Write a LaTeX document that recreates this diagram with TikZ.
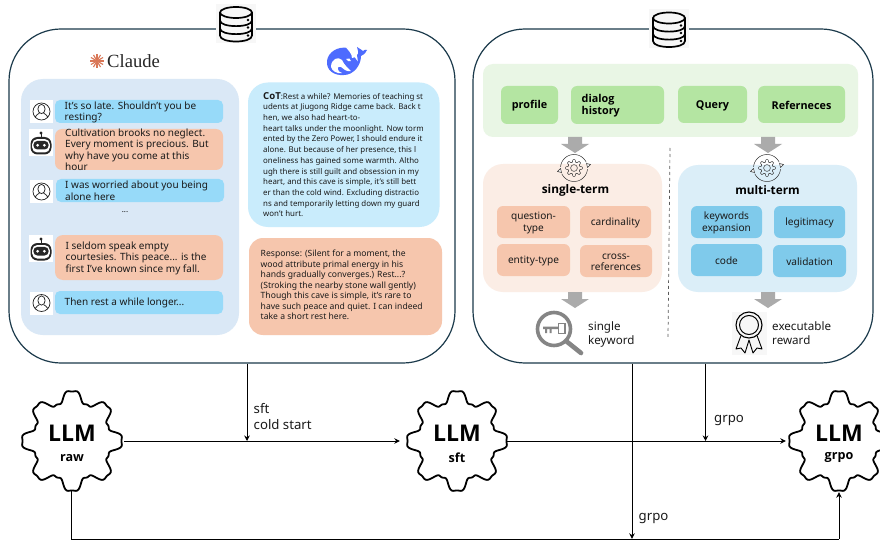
\documentclass[tikz,border=0pt]{standalone}
\usepackage{fontspec}
\setmainfont{Noto Sans}
\newfontfamily\claudefont{Liberation Serif}
\newfontfamily\heavy{Open Sans}
\usetikzlibrary{arrows.meta,calc,shapes.arrows}
\definecolor{navy}{HTML}{1B3A4B}
\definecolor{bubblue}{HTML}{97DAF9}
\definecolor{buborange}{HTML}{F6C6AD}
\definecolor{panelblue}{HTML}{DAE8F6}
\definecolor{cyanpanel}{HTML}{C9ECFC}
\definecolor{greenpanel}{HTML}{E9F6E5}
\definecolor{greenbox}{HTML}{B4E5A2}
\definecolor{peach}{HTML}{FBEDE5}
\definecolor{skypanel}{HTML}{DBEEF8}
\definecolor{skybox}{HTML}{7FCAEB}
\definecolor{arrowgray}{HTML}{ABABAB}
\definecolor{txt}{HTML}{1A1A1A}
\definecolor{whale}{HTML}{4D6BFE}
\definecolor{spark}{HTML}{D97757}
\tikzset{
  x=1pt,y=-1pt,
  outerbox/.style={draw=navy,line width=1.2pt,rounded corners=52pt},
  panel/.style={rounded corners=#1},
  bubtext/.style={anchor=west,inner sep=0,align=left,text=txt,font=\fontsize{10}{11.4}\selectfont},
  boldlbl/.style={inner sep=0,align=left,yshift=-1pt,font=\heavy\fontsize{10.8}{12.5}\selectfont\bfseries,text=black},
  boxlbl/.style={inner sep=0,align=center,yshift=-1pt,font=\fontsize{10.1}{11.3}\selectfont,text=txt},
  edgelbl/.style={anchor=west,inner sep=0,align=left,font=\fontsize{13.2}{16}\selectfont,text=txt},
  sidelbl/.style={anchor=west,inner sep=0,align=left,font=\fontsize{11.6}{14}\selectfont,text=txt},
  link/.style={line width=1pt,-{Stealth[length=5.5pt,width=5.5pt]}},
  plainlink/.style={line width=1pt},
  gearnode/.style={circle,minimum size=100pt,inner sep=0},
  llm/.style={inner sep=0,font=\heavy\fontsize{23}{26}\selectfont\bfseries},
  llmsub/.style={inner sep=0,font=\heavy\fontsize{12.6}{14}\selectfont\bfseries},
  termlbl/.style={inner sep=0,font=\heavy\fontsize{11.8}{14}\selectfont\bfseries,text=black},
  grayarrow/.style={fill=arrowgray},
  person/.pic={
    \fill[white] (-11.5,-11.5) rectangle (11.5,11.5);
    \draw[line width=.75pt,black!85] (0,0) circle[radius=8.5];
    \draw[line width=.75pt,black!85] (0,-2.5) ellipse[x radius=3.6,y radius=4.6];
    \draw[line width=.75pt,black!85] (-6.4,5.6) .. controls (-5.5,2.6) and (-3,3) .. (-2,1.6);
    \draw[line width=.75pt,black!85] (6.4,5.6) .. controls (5.5,2.6) and (3,3) .. (2,1.6);
  },
  robot/.pic={
    \fill[white] (-12,-13.5) rectangle (12,13.5);
    \fill[black!85] (0,-9.5) circle[radius=1.7];
    \draw[line width=1pt,black!85] (0,-9) -- (0,-5);
    \fill[black!85,rounded corners=7pt] (-10.5,-5.5) rectangle (10.5,12);
    \fill[white,rounded corners=5pt] (-8.8,-3.4) rectangle (8.8,10);
    \fill[black!85,rounded corners=4pt] (-7.6,-1.6) rectangle (7.6,7);
    \fill[white] (-3.4,2.8) circle[radius=1.5] (3.4,2.8) circle[radius=1.5];
  },
  dbicon/.pic={
    \fill[black!3] (-20,-19.5) rectangle (20,19.5);
    \begin{scope}[line width=1.7pt,draw=black]
      \fill[black!3] (-16,-12) -- (-16,12) .. controls (-16,20) and (16,20) .. (16,12) -- (16,-12) -- cycle;
      \draw (0,-11) ellipse[x radius=16,y radius=5.5];
      \draw (-16,-11) -- (-16,12) .. controls (-16,20) and (16,20) .. (16,12) -- (16,-11);
      \draw (-16,-3) .. controls (-16,4.5) and (16,4.5) .. (16,-3);
      \draw (-16,5) .. controls (-16,12.5) and (16,12.5) .. (16,5);
    \end{scope}
    \fill (12,-3.5) circle[radius=1.3] (12,4) circle[radius=1.3] (12,12) circle[radius=1.3];
  },
  cycleicon/.pic={
    \draw[line width=.5pt,black!80] plot[domain=0:360,samples=161,smooth] ({(7.2+1.1*(cos(8*\x)-.2*cos(24*\x))/.8)*cos(\x)},{(7.2+1.1*(cos(8*\x)-.2*cos(24*\x))/.8)*sin(\x)});
    \draw[line width=.5pt,black!80] (0,0) circle[radius=3.4];
    \draw[line width=.5pt,black!80] plot[domain=185:335,samples=24] ({13.5*cos(\x)},{13.5*sin(\x)});
    \draw[line width=.5pt,black!80] plot[domain=5:155,samples=24] ({13.5*cos(\x)},{13.5*sin(\x)});
    \draw[line width=.5pt,black!80,fill=white] (12.5,-4.5) -- (16.5,-3.5) -- (13.5,-.5) -- cycle;
    \draw[line width=.5pt,black!80,fill=white] (-12.5,4.5) -- (-16.5,3.5) -- (-13.5,.5) -- cycle;
  },
}
\newcommand{\gearshape}[2]{%
  \draw[line width=1.8pt,black,line join=round] plot[domain=0:360,samples=241,smooth] ({#1+(44.4+5*(cos(8*(\x+90))-.22*cos(24*(\x+90)))/.78)*cos(\x)},{#2+(44.4+5*(cos(8*(\x+90))-.22*cos(24*(\x+90)))/.78)*sin(\x)});}
\newcommand{\blockarrow}[2]{%
  \fill[grayarrow] (#1-7,#2) -- (#1+7,#2) -- (#1+7,#2+7) -- (#1+14,#2+7) -- (#1,#2+16) -- (#1-14,#2+7) -- (#1-7,#2+7) -- cycle;}
\begin{document}
\begin{tikzpicture}
\useasboundingbox[clip] (0,0) rectangle (880,540);
\fill[white] (0,0) rectangle (880,540);

% outer boxes
\path[outerbox] (9,29) rectangle node[inner sep=0] (leftbox) {} (455,363);
\path[outerbox] (473,29) rectangle node[inner sep=0] (rightbox) {} (873,363);
\pic at (236,23.5) {dbicon};
\pic at (669,29) {dbicon};

% Claude header
\foreach \a in {0,30,...,330}{\draw[line width=1.1pt,color=spark] (97,61) -- ++(\a:7);}
\node[anchor=west,inner sep=0,font=\claudefont\fontsize{18.6}{20}\selectfont,text=black!85] (claude) at (107,61.5) {Claude};

% DeepSeek whale
\fill[whale] (327,61) .. controls (328,52) and (338,46) .. (348,48)
  -- (358,62) -- (357,55) .. controls (360,53) and (357,50) .. (357,47) .. controls (360,49) and (362,50) .. (363,51) .. controls (364,50) and (366,49) .. (367,50) .. controls (365,54) and (363,55) .. (361,56)
  .. controls (361,66) and (353,75) .. (344,75) .. controls (334,76) and (326,70) .. (327,61) -- cycle;
\fill[white] (331,67) .. controls (331,59) and (338,56) .. (342,60) .. controls (344,65) and (349,69) .. (351,71) .. controls (346,72) and (344,69) .. (341,67) .. controls (336,65) and (337,72) .. (342,73) .. controls (337,74) and (332,71) .. (331,67) -- cycle;
\fill[white] (346,59) .. controls (348,57) and (351,59) .. (351,61) .. controls (349,62) and (347,61) .. (346,59) -- cycle;
\fill[white] (346,47.5) -- (350,47) -- (356,57) -- (352,58) .. controls (352,54) and (349,51) .. (346,47.5) -- cycle;

% left conversation panel
\path[fill=panelblue,panel=22pt] (21,79) rectangle node[inner sep=0] (chatpanel) {} (239,335);
\path[fill=bubblue,panel=5pt] (55,100) rectangle node[inner sep=0] (b1) {} (223,123);
\path[fill=buborange,panel=7pt] (55,129) rectangle node[inner sep=0] (o1) {} (223,170);
\path[fill=bubblue,panel=5pt] (56,179) rectangle node[inner sep=0] (b2) {} (224,202);
\path[fill=buborange,panel=8pt] (55,235) rectangle node[inner sep=0] (o2) {} (223,280);
\path[fill=bubblue,panel=5pt] (55,291) rectangle node[inner sep=0] (b3) {} (223,314);
\node[bubtext] (t1) at (64.5,112.3) {It's so late. Shouldn't you be\\resting?};
\node[bubtext] (t2) at (65,149.8) {Cultivation brooks no neglect.\\Every moment is precious. But\\why have you come at this\\hour};
\node[bubtext] (t3) at (65,190.8) {I was worried about you being\\alone here};
\node[inner sep=0,font=\fontsize{8}{9}\selectfont] (dots) at (125,212) {...};
\node[bubtext] (t4) at (65.5,258) {I seldom speak empty\\courtesies. This peace... is the\\first I've known since my fall.};
\node[bubtext] (t5) at (64.5,302.5) {Then rest a while longer...};
\pic at (41.5,111.5) {person};
\pic at (41,142.5) {robot};
\pic at (41.5,191.5) {person};
\pic at (41,248.5) {robot};
\pic at (41.5,303) {person};

% CoT panel
\path[fill=cyanpanel,panel=20pt] (248,82.5) rectangle node[inner sep=0] (cotpanel) {} (439.5,227);
\node[anchor=north west,inner sep=0,align=left,text=txt,font=\fontsize{7.9}{10.7}\selectfont] (cot) at (263,92) {{\heavy\fontsize{9.6}{10.7}\selectfont\bfseries CoT}:Rest a while? Memories of teaching st\\udents at Jiugong Ridge came back. Back t\\hen, we also had heart-to-\\heart talks under the moonlight. Now torm\\ented by the Zero Power, I should endure it\\ alone. But because of her presence, this l\\oneliness has gained some warmth. Altho\\ugh there is still guilt and obsession in my\\heart, and this cave is simple, it's still bett\\er than the cold wind. Excluding distractio\\ns and temporarily letting down my guard\\won't hurt.};
% response panel
\path[fill=buborange,panel=14pt] (249,238) rectangle node[inner sep=0] (resppanel) {} (442,335);
\node[anchor=north west,inner sep=0,align=left,text=txt,font=\fontsize{8.6}{10.5}\selectfont] (resp) at (260.5,250) {Response: (Silent for a moment, the\\wood attribute primal energy in his\\hands gradually converges.) Rest...?\\(Stroking the nearby stone wall gently)\\Though this cave is simple, it's rare to\\have such peace and quiet. I can indeed\\take a short rest here.};

% right top
\path[fill=greenpanel,panel=10pt] (483,64) rectangle node[inner sep=0] (greenp) {} (858,137);
\path[fill=greenbox,panel=6pt] (501,86) rectangle node[boldlbl] (profile) {profile} (558,124);
\path[fill=greenbox,panel=6pt] (571,86) rectangle node[inner sep=0] (dialogbox) {} (664,124);
\node[boldlbl,anchor=west] (dialog) at (581.5,104.5) {dialog\\history};
\path[fill=greenbox,panel=6pt] (678,86) rectangle node[boldlbl] (query) {Query} (747,123);
\path[fill=greenbox,panel=6pt] (758,86) rectangle node[boldlbl] (refs) {Referneces} (845,123);

\blockarrow{575}{137}
\blockarrow{768}{137}
\draw[dashed,line width=.7pt,black!65] (670,148) coordinate (dashtop) -- (668,337) coordinate (dashbot);

% single / multi panels
\path[fill=peach,panel=20pt] (483,164) rectangle node[inner sep=0] (singlep) {} (662,292);
\path[fill=skypanel,panel=20pt] (678,165) rectangle node[inner sep=0] (multip) {} (857,292);
\pic at (574,168) {cycleicon};
\pic at (767,168) {cycleicon};
\node[termlbl] (singlet) at (575.5,190) {single-term};
\node[termlbl] (multit) at (767.5,190) {multi-term};

\path[fill=buborange,panel=6pt] (497,206) rectangle node[boxlbl] (qt) {question-\\type} (570,238);
\path[fill=buborange,panel=6pt] (580,206) rectangle node[boxlbl] (card) {cardinality} (651,238);
\path[fill=buborange,panel=6pt] (497,244) rectangle node[boxlbl] (et) {entity-type} (570,276);
\path[fill=buborange,panel=6pt] (580,245) rectangle node[boxlbl] (cr) {cross-\\references} (652,277);
\path[fill=skybox,panel=6pt] (691,206) rectangle node[boxlbl] (kw) {keywords\\expansion} (762,238);
\path[fill=skybox,panel=6pt] (774,206) rectangle node[boxlbl] (leg) {legitimacy} (845,238);
\path[fill=skybox,panel=6pt] (691,244) rectangle node[boxlbl] (code) {code} (762,276);
\path[fill=skybox,panel=6pt] (773,245) rectangle node[boxlbl] (val) {validation} (846,277);

\blockarrow{575}{292}
\blockarrow{768}{292}

% magnifier with key
\draw[line width=3.6pt,black!48] (554,329) circle[radius=16.5];
\draw[line width=4.6pt,black!48,line cap=round] (566,341) -- (581,353);
\draw[line width=1.5pt,black!48] (558.5,323.5) rectangle (565,333.5);
\fill[black!48] (543,326.5) rectangle (558.5,329) (545,329) rectangle (547,333) (549.5,329) rectangle (551.5,333);
\node[sidelbl] (sk) at (588,334) {single\\keyword};

% medal
\fill[black!3] (732,312) rectangle (767,355);
\draw[line width=1.1pt,black] (749,325) circle[radius=13];
\draw[line width=1pt,black] (749,325) circle[radius=9.5];
\draw[line width=.9pt,black,line join=round] (741,335.5) -- (736,349) -- (741,348) -- (745,353) -- (749,340) -- (753,353) -- (757,348) -- (762,349) -- (757,335.5);
\node[sidelbl] (er) at (772,333) {executable\\reward};

% gears
\node[gearnode] (raw) at (72,441) {};
\node[gearnode] (sft) at (457,441) {};
\node[gearnode] (grpo) at (839,441) {};
\gearshape{72}{441}
\gearshape{457}{441}
\gearshape{839}{441}
\node[llm] (rawa) at (72,433.5) {LLM};
\node[llm] (sfta) at (457,433.5) {LLM};
\node[llm] (grpoa) at (839,433.5) {LLM};
\node[llmsub] (rawb) at (72,458) {raw};
\node[llmsub] (sftb) at (457,458) {sft};
\node[llmsub] (grpob) at (839,458) {grpo};

% connectors
\coordinate (m1) at (247,441);
\coordinate (m2) at (705.5,441);
\coordinate (c1) at (247,363.5);
\coordinate (c2) at (705.5,363.5);
\coordinate (c3) at (632,363.5);
\coordinate (b3) at (632,538.8);
\coordinate (bl) at (71,539);
\coordinate (br) at (839,539);
\draw[link,shorten <=2pt,shorten >=7pt] (raw.east) -- (sft.west);
\draw[link,shorten >=3pt] (sft.east) -- (grpo.west);
\draw[link] (c1) -- (m1);
\draw[link] (c2) -- (m2);
\draw[link] (c3) -- (b3);
\draw[plainlink] (raw.south -| bl) -- (bl) -- (br);
\draw[link,shorten >=1pt] (br) -- (grpo.south);
\node[edgelbl] (lsft) at (253.5,416.5) {sft\\cold start};
\node[edgelbl] (lg1) at (714,420.5) {grpo};
\node[edgelbl] (lg2) at (638.5,518) {grpo};
\end{tikzpicture}
\end{document}
